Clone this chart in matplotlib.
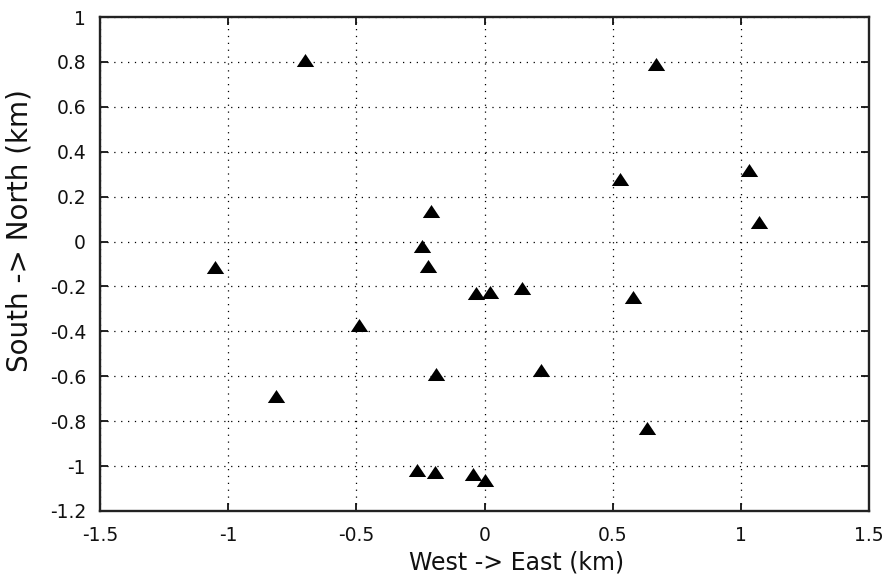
import matplotlib
matplotlib.use("Agg")
import matplotlib.pyplot as plt
import numpy as np

# Station coordinates (km)
east = [-0.70, 0.67, 0.53, 1.03, 1.07, -0.21, -0.245, -0.22, -0.035, 0.02,
        0.145, -0.49, -1.05, 0.58, -0.19, 0.22, -0.815, 0.635, -0.265, -0.193,
        -0.044, 0.0]
north = [0.81, 0.79, 0.28, 0.32, 0.088, 0.135, -0.02, -0.11, -0.23, -0.225,
         -0.205, -0.37, -0.113, -0.247, -0.59, -0.571, -0.69, -0.83, -1.018, -1.027,
         -1.033, -1.064]

x_ticks = [-1.5, -1, -0.5, 0, 0.5, 1, 1.5]
x_tick_labels = ["-1.5", "-1", "-0.5", "0", "0.5", "1", "1.5"]
y_ticks = [-1.2, -1, -0.8, -0.6, -0.4, -0.2, 0, 0.2, 0.4, 0.6, 0.8, 1]
y_tick_labels = ["-1.2", "-1", "-0.8", "-0.6", "-0.4", "-0.2", "0", "0.2", "0.4", "0.6", "0.8", "1"]

plt.rcParams["font.family"] = ["DejaVu Sans"]

fig = plt.figure(figsize=(8.94, 5.80), dpi=100)
ax = fig.add_axes([100 / 894, 1 - 511 / 580, 769 / 894, 494 / 580])

tri = np.array([[-1.0, -0.75], [1.0, -0.75], [0.0, 0.75], [-1.0, -0.75]])
ax.plot(east, north, linestyle="none", marker=tri, markersize=12.5,
        color="black", markeredgewidth=0, zorder=3)

ax.set_xlim(-1.5, 1.5)
ax.set_ylim(-1.2, 1.0)
ax.set_xticks(x_ticks)
ax.set_xticklabels(x_tick_labels)
ax.set_yticks(y_ticks)
ax.set_yticklabels(y_tick_labels)

ax.grid(True, color="black", linestyle=(0, (1, 4.5)), linewidth=0.9)
ax.tick_params(direction="in", length=6, width=1.3, top=True, right=True,
               labelsize=13.5, colors="#111111")
ax.tick_params(axis="x", pad=10.5)
ax.tick_params(axis="y", pad=10)
for s in ax.spines.values():
    s.set_linewidth(1.7)
    s.set_color("#222222")

ax.set_xlabel("West -> East (km)", fontsize=17, color="#111111")
ax.set_ylabel("South -> North (km)", fontsize=20, color="#111111")
ax.xaxis.set_label_coords(0.542, -0.08)
ax.yaxis.set_label_coords(-0.087, 0.567)

fig.savefig("out.png", dpi=100)
